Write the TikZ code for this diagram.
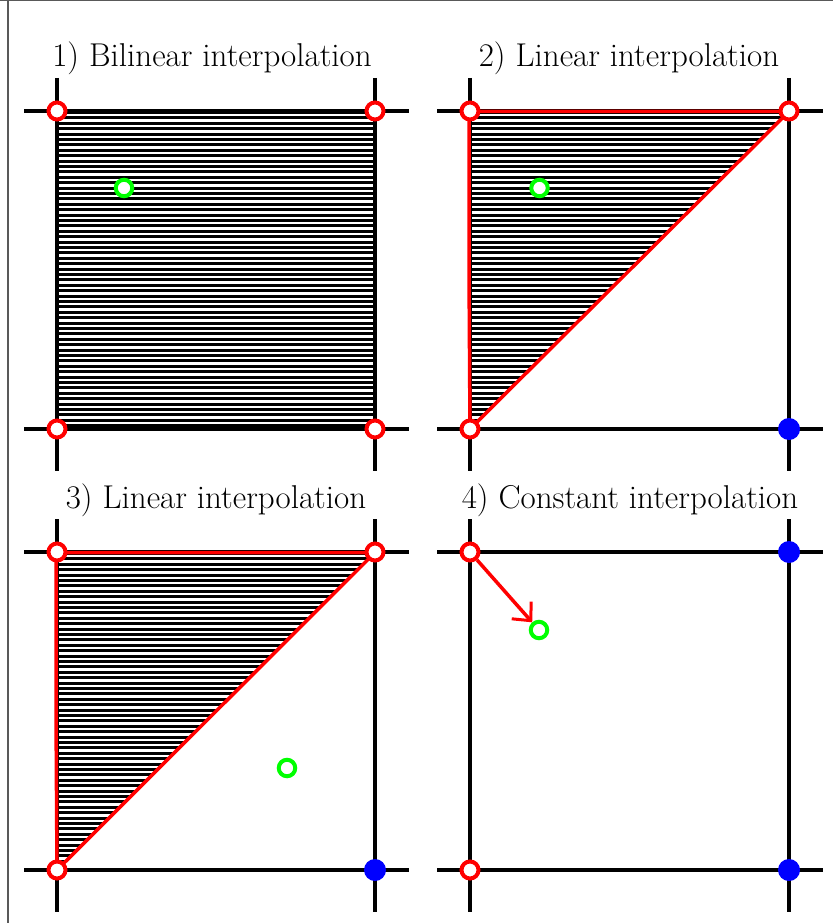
\documentclass[tikz,border=0pt]{standalone}
\usetikzlibrary{arrows.meta}
\begin{document}
\begin{tikzpicture}[x=1pt,y=-1pt,
  gridline/.style={line width=3.5pt, black},
  redpt/.style={circle, draw=red, fill=white, line width=4pt, minimum size=17pt, inner sep=0pt},
  greenpt/.style={circle, draw=green, fill=white, line width=4pt, minimum size=16.5pt, inner sep=0pt},
  bluept/.style={circle, fill=blue, minimum size=22pt, inner sep=0pt},
  title/.style={font=\fontsize{33}{36}\selectfont, anchor=base, inner sep=0pt},
  redline/.style={red, line width=3.5pt},
  hatchline/.style={black, line width=2.9pt},
  frameline/.style={black!65, line width=1.2pt}]
\useasboundingbox (0,0) rectangle (833,923);
\draw[frameline] (0,0.6) -- (833,0.6);
\draw[frameline] (8,0) -- (8,923);

% hatching
\begin{scope}
  \clip (57,111) rectangle (375,429);
  \foreach \y in {112.5,117.9,...,430} \draw[hatchline] (57,\y) -- (375,\y);
\end{scope}
\begin{scope}
  \clip (470,111) -- (789,111) -- (470,429) -- cycle;
  \foreach \y in {112.5,117.9,...,430} \draw[hatchline] (470,\y) -- (789,\y);
\end{scope}
\begin{scope}
  \clip (57,552) -- (375,552) -- (57,870) -- cycle;
  \foreach \y in {553.5,558.9,...,871} \draw[hatchline] (57,\y) -- (375,\y);
\end{scope}

% grid lines
\foreach \xa/\xb/\ya/\yb in {57/375/111/429, 470/789/111/429, 57/375/552/870, 470/789/552/870}{
  \draw[gridline] (\xa-33,\ya) -- (\xb+34,\ya);
  \draw[gridline] (\xa-33,\yb) -- (\xb+34,\yb);
  \draw[gridline] (\xa,\ya-33) -- (\xa,\yb+42);
  \draw[gridline] (\xb,\ya-33) -- (\xb,\yb+42);
}

% titles
\node[title] (t1) at (212,67) {1) Bilinear interpolation};
\node[title] (t2) at (629,67) {2) Linear interpolation};
\node[title] (t3) at (216,508) {3) Linear interpolation};
\node[title] (t4) at (630,508) {4) Constant interpolation};

% panel 2 red triangle
\draw[redline] (470,429) -- (469,270) -- (469,111.5) -- (789,111.5) -- cycle;
% panel 3 red triangle
\draw[redline] (57,870) -- (56,711) -- (56,552.5) -- (375,552.5) -- cycle;

% panel 1 points
\node[redpt] (p1a) at (57,111) {};
\node[redpt] (p1b) at (375,111) {};
\node[redpt] (p1c) at (57,429) {};
\node[redpt] (p1d) at (375,429) {};
\node[greenpt] (g1) at (124,188) {};

% panel 2 points
\node[redpt] (p2a) at (470,111) {};
\node[redpt] (p2b) at (789,111) {};
\node[redpt] (p2c) at (470,429) {};
\node[bluept] (b2) at (789,429) {};
\node[greenpt] (g2) at (539.5,188) {};

% panel 3 points
\node[redpt] (p3a) at (57,552) {};
\node[redpt] (p3b) at (375,552) {};
\node[redpt] (p3c) at (57,870) {};
\node[bluept] (b3) at (375,870) {};
\node[greenpt] (g3) at (287,768) {};

% panel 4 points
\node[redpt] (p4a) at (470,552) {};
\node[redpt] (p4c) at (470,870) {};
\node[bluept] (b4a) at (789,552) {};
\node[bluept] (b4b) at (789,870) {};
\node[greenpt] (g4) at (539,630) {};
\draw[redline, -{Straight Barb[length=14pt,width=26pt,line width=3pt]}] (p4a) -- (g4);
\end{tikzpicture}
\end{document}
